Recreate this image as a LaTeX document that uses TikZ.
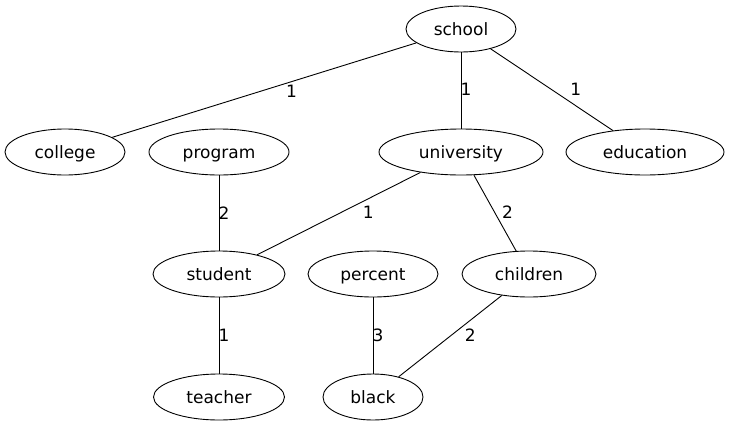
\documentclass[tikz,border=0pt]{standalone}
\usepackage{fontspec}
\setmainfont{DejaVu Sans}
\usetikzlibrary{shapes.geometric}

\begin{document}
\begin{tikzpicture}[x=1pt,y=-1pt,line width=0.9pt,
    word node/.style={ellipse,draw,minimum height=46pt,inner sep=0pt,font=\fontsize{17}{20}\selectfont,text height=13pt,text depth=1pt},
    weight/.style={font=\fontsize{17}{20}\selectfont,inner sep=0pt}]
    \useasboundingbox (0,0) rectangle (729,429);

    \node[word node,minimum width=110pt] (school) at (461,29) {school};
    \node[word node,minimum width=120pt] (college) at (65,152) {college};
    \node[word node,minimum width=140pt] (program) at (219,152) {program};
    \node[word node,minimum width=164pt] (university) at (461,152) {university};
    \node[word node,minimum width=158pt] (education) at (645,152) {education};
    \node[word node,minimum width=132pt] (student) at (219,274) {student};
    \node[word node,minimum width=130pt] (percent) at (373,274) {percent};
    \node[word node,minimum width=134pt] (children) at (529,274) {children};
    \node[word node,minimum width=131pt] (teacher) at (219,397) {teacher};
    \node[word node,minimum width=100pt] (black) at (373,397) {black};

    \path[every node/.style={weight}]
    (school) edge node[pos=.41,yshift=-10pt] {1} (college)
    (school) edge node[pos=.49,xshift=5pt] {1} (university)
    (school) edge node[pos=.5,xshift=24pt] {1} (education)
    (program) edge node[pos=.5,xshift=5pt] {2} (student)
    (university) edge node[pos=.32,yshift=-14pt] {1} (student)
    (university) edge node[pos=.49,xshift=13pt] {2} (children)
    (student) edge node[pos=.5,xshift=5pt] {1} (teacher)
    (percent) edge node[pos=.5,xshift=5pt] {3} (black)
    (children) edge node[pos=.49,xshift=19pt] {2} (black);
\end{tikzpicture}
\end{document}
